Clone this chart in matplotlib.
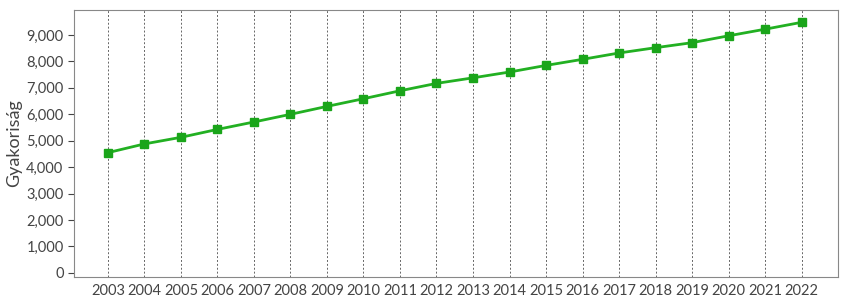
import matplotlib
matplotlib.use("agg")
import matplotlib.pyplot as plt
from matplotlib.ticker import FuncFormatter

#### Data ####
years = list(range(2003, 2023))
values = [4550, 4880, 5130, 5430, 5710, 6000, 6300, 6590, 6890, 7170,
          7380, 7600, 7850, 8080, 8320, 8520, 8710, 8970, 9220, 9480]
ylabel = "Gyakoriság"

plt.rcParams['font.family'] = ['Lato', 'DejaVu Sans']

fig = plt.figure(figsize=(8.5, 3), dpi=100)
ax = fig.add_axes([0.087, 0.077, 0.899, 0.89])

ax.plot(years, values, color="#22b022", lw=2, marker="s", ms=6,
        markerfacecolor="#1aa51a", markeredgecolor="#1aa51a", zorder=3)

ax.set_xlim(2002.07, 2023)
ax.set_ylim(-150, 9950)
ax.set_xticks(years)
ax.set_yticks(range(0, 10000, 1000))
ax.yaxis.set_major_formatter(FuncFormatter(lambda v, p: f"{int(v):,}"))

ax.grid(axis="x", linestyle=(0, (2, 2)), color="#666666", lw=0.7)
ax.tick_params(colors="#444444", labelsize=10.5, length=4)
ax.tick_params(axis="x", length=0, pad=5)
for s in ax.spines.values():
    s.set_color("#888888")
ax.set_ylabel(ylabel, fontsize=13, color="#444444", labelpad=3)

fig.savefig("out.png")
